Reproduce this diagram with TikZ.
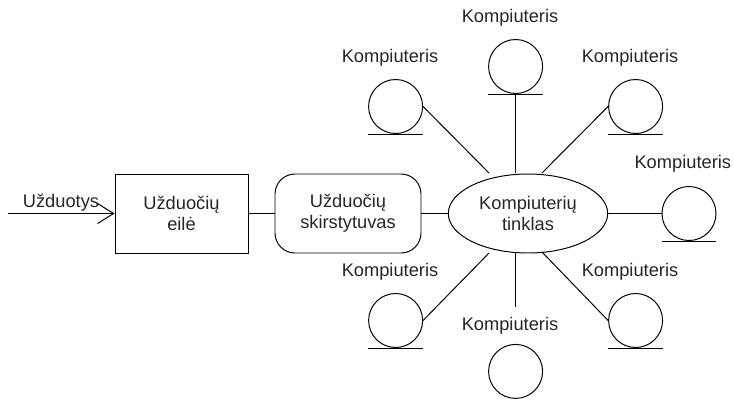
\documentclass[tikz,border=0pt]{standalone}
\usepackage{fontspec}
\setmainfont{Liberation Sans}
\usetikzlibrary{shapes,arrows.meta,positioning,calc}

\begin{document}
\begin{tikzpicture}[line width=0.7pt]
    % Define node styles
    \tikzstyle{box} = [rectangle, draw, text centered, align=center, minimum width=3.325cm, minimum height=1.975cm, inner sep=0pt]
    \tikzstyle{dispatch} = [rectangle, rounded corners=0.5cm, draw, text centered, align=center, minimum width=3.65cm, minimum height=1.975cm, inner sep=0pt]
    \tikzstyle{network} = [ellipse, draw, text centered, align=center, minimum width=3.985cm, minimum height=1.975cm, inner sep=0pt]
    \tikzstyle{computer} = [circle, draw, minimum size=1.35cm, inner sep=0pt]
    \tikzstyle{caption} = [inner sep=0pt]
    \tikzstyle{arrow} = [-{Straight Barb[length=0.4cm,width=0.5cm]}]
    \tikzset{every node/.append style={font=\fontsize{13}{15}\selectfont, text=black!85}}

    \useasboundingbox (0,0) rectangle (18.35,9.975);

    % Main chain
    \coordinate (input) at (0.2,4.6375);
    \node[box] (queue) at (4.5375,4.6375) {Užduočių\\eilė};
    \node[dispatch] (dispatcher) at (8.7,4.6375) {Užduočių\\skirstytuvas};
    \node[network] (net) at (13.2,4.6375) {Kompiuterių\\tinklas};
    \node[caption] (inputlabel) at (1.525,4.9) {Užduotys};

    % Computers
    \node[computer] (pc1) at (9.89,7.3125) {};
    \node[computer] (pc2) at (12.89,8.3125) {};
    \node[computer] (pc3) at (15.89,7.3125) {};
    \node[computer] (pc4) at (17.225,4.6375) {};
    \node[computer] (pc5) at (15.89,1.9625) {};
    \node[computer] (pc6) at (12.89,0.69) {};
    \node[computer] (pc7) at (9.89,1.9625) {};

    % Computer labels
    \node[caption] (label1) at (9.75,8.52) {Kompiuteris};
    \node[caption] (label2) at (12.75,9.52) {Kompiuteris};
    \node[caption] (label3) at (15.75,8.52) {Kompiuteris};
    \node[caption] (label4) at (17.07,5.87) {Kompiuteris};
    \node[caption] (label5) at (15.75,3.17) {Kompiuteris};
    \node[caption] (label6) at (12.75,1.83) {Kompiuteris};
    \node[caption] (label7) at (9.75,3.17) {Kompiuteris};

    % Free ends around the network
    \coordinate (net1) at (12.225,5.65);
    \coordinate (net2) at (12.89,5.65);
    \coordinate (net3) at (13.55,5.65);
    \coordinate (net5) at (13.55,3.675);
    \coordinate (net6) at (12.89,3.675);
    \coordinate (net6end) at (12.89,2.3);
    \coordinate (net7) at (12.225,3.65);

    % Arrows - Main flow
    \draw[arrow] (input) -- (queue.west);
    \draw (queue) -- (dispatcher);
    \draw (dispatcher) -- (net);

    % Links to the computers
    \draw (pc1.east) -- (net1);
    \draw (pc2.south) -- (net2);
    \draw (pc3.west) -- (net3);
    \draw (net.east) -- (pc4.west);
    \draw (pc5.west) -- (net5);
    \draw (net6) -- (net6end);
    \draw (pc7.east) -- (net7);

    % Base lines
    \foreach \pc in {pc1,pc2,pc3,pc4,pc5,pc7}
        \draw (\pc.west |- \pc.south) -- (\pc.east |- \pc.south);
\end{tikzpicture}
\end{document}
